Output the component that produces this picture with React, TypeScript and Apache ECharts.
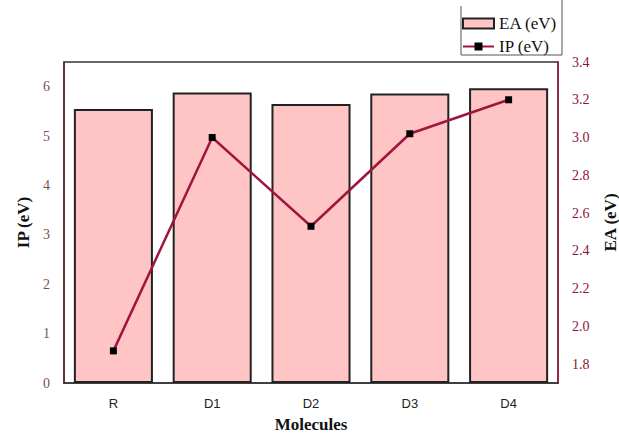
import React, { useEffect, useRef } from "react";
import * as echarts from "echarts";

const categories = ["R", "D1", "D2", "D3", "D4"];
const eaBars = [5.55, 5.88, 5.65, 5.86, 5.97];
const ipLine = [1.87, 3.0, 2.53, 3.02, 3.2];
const seriesNames = ["EA (eV)", "IP (eV)"];

export default function App() {
  const ref = useRef<HTMLDivElement>(null);
  useEffect(() => {
    const chart = echarts.init(ref.current!, null, { renderer: "svg" });
    const serif = "Liberation Serif";
    chart.setOption({
      animation: false,
      backgroundColor: "#ffffff",
      grid: {
        left: 64,
        right: 61,
        top: 62,
        bottom: 51,
        outerBoundsMode: "none",
        containLabel: false,
        show: true,
        borderColor: "#333",
        borderWidth: 1.5,
        backgroundColor: "transparent",
      },
      legend: {
        orient: "vertical",
        left: 462,
        top: 15,
        padding: 0,
        itemWidth: 31,
        itemHeight: 10,
        itemGap: 6,
        textStyle: { fontFamily: serif, fontSize: 17, color: "#111" },
        data: [
          { name: seriesNames[0], icon: "rect" },
          { name: seriesNames[1] },
        ],
      },
      graphic: [
        {
          type: "polyline",
          shape: { points: [[461, 6], [461, 55], [562, 55], [562, 0]] },
          style: { stroke: "#555", lineWidth: 1, fill: "none" },
        },
      ],
      xAxis: {
        type: "category",
        data: categories,
        name: "Molecules",
        nameLocation: "middle",
        nameGap: 33,
        nameTextStyle: { fontFamily: serif, fontSize: 17, fontWeight: "bold", color: "#111" },
        axisLine: { lineStyle: { color: "#333", width: 1.5 } },
        axisTick: { show: false },
        axisLabel: { fontFamily: "Liberation Sans", fontSize: 13, color: "#222", margin: 14 },
      },
      yAxis: [
        {
          type: "value",
          min: 0,
          max: 6.5,
          interval: 1,
          name: "IP (eV)",
          nameLocation: "middle",
          nameGap: 30,
          nameTextStyle: { fontFamily: serif, fontSize: 17, fontWeight: "bold", color: "#111" },
          axisLine: { show: true, lineStyle: { color: "#5a2a30", width: 1.5 } },
          axisTick: { show: false },
          splitLine: { show: false },
          axisLabel: {
            fontFamily: serif,
            fontSize: 14,
            color: "#7a5055",
            margin: 14,
            formatter: (v: number) => (Number.isInteger(v) ? String(v) : ""),
          },
        },
        {
          type: "value",
          min: 1.7,
          max: 3.4,
          interval: 0.1,
          name: "EA (eV)",
          nameLocation: "middle",
          nameGap: 44,
          nameTextStyle: { fontFamily: serif, fontSize: 17, fontWeight: "bold", color: "#111" },
          axisLine: { show: true, lineStyle: { color: "#a0153e", width: 1.5 } },
          axisTick: { show: false },
          splitLine: { show: false },
          axisLabel: {
            fontFamily: serif,
            fontSize: 14,
            color: "#8b1538",
            margin: 14,
            formatter: (v: number) => {
              const r = Math.round(v * 10);
              return r % 2 === 0 ? (r / 10).toFixed(1) : "";
            },
          },
        },
      ],
      series: [
        {
          name: seriesNames[0],
          type: "bar",
          yAxisIndex: 0,
          data: eaBars,
          barCategoryGap: "20%",
          itemStyle: { color: "#ffc4c4", borderColor: "#222", borderWidth: 2 },
        },
        {
          name: seriesNames[1],
          type: "line",
          yAxisIndex: 1,
          data: ipLine,
          symbol: "rect",
          symbolSize: 7,
          lineStyle: { color: "#a0153e", width: 2.5 },
          itemStyle: { color: "#000" },
        },
      ],
    });
    return () => chart.dispose();
  }, []);
  return (
    <div
      ref={ref}
      style={{ position: "fixed", left: 0, top: 0, width: 619, height: 434 }}
    />
  );
}
